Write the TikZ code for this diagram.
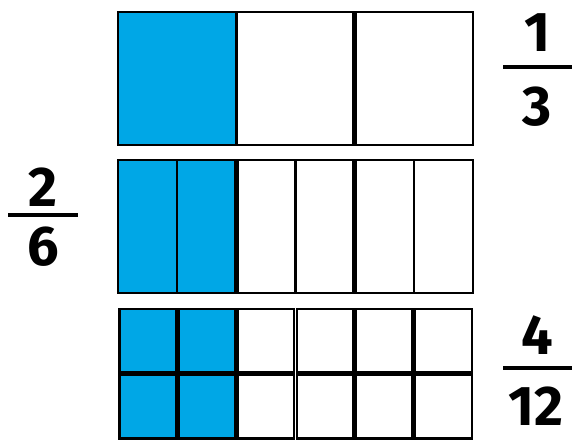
\documentclass[tikz,border=0pt]{standalone}
\usepackage{fontspec}
\usepackage{xcolor}
\usepackage{tikz}
\newfontfamily\digitfont{Fira Sans}
\definecolor{part}{HTML}{00A7E6}
\tikzset{
  cell/.style={draw=black, line width=2.4pt, fill=white},
  shaded/.style={cell, fill=part},
  divider/.style={line width=4.6pt},
  digit/.style={font=\digitfont\bfseries\fontsize{56}{56}\selectfont, inner sep=0pt},
  fracbar/.style={line width=4.8pt}
}

\begin{document}
\begin{tikzpicture}[x=1pt, y=-1pt]
  \useasboundingbox (0,0) rectangle (572,441);
  \pgfmathsetmacro{\Lx}{118}
  \pgfmathsetmacro{\Wd}{355}
  % thirds
  \foreach \i in {0,1,2} {
    \draw[cell] (\Lx+\i*\Wd/3, 12) rectangle ++(\Wd/3, 133);
  }
  \draw[shaded] (\Lx, 12) rectangle ++(\Wd/3, 133);
  \draw[divider] (\Lx+2*\Wd/3, 12) -- (\Lx+2*\Wd/3, 145);
  % sixths
  \foreach \i in {0,...,5} {
    \draw[cell] (\Lx+\i*\Wd/6, 160) rectangle ++(\Wd/6, 133);
  }
  \foreach \i in {0,1} {
    \draw[shaded] (\Lx+\i*\Wd/6, 160) rectangle ++(\Wd/6, 133);
  }
  \foreach \i in {2,4} {
    \draw[divider] (\Lx+\i*\Wd/6, 160) -- (\Lx+\i*\Wd/6, 293);
  }
  % twelfths, each box on its own with a hairline gap
  \foreach \r in {0,1} {
    \foreach \i in {0,...,5} {
      \pgfmathsetmacro{\st}{\i<2 ? "shaded" : "cell"}
      \draw[\st] (\Lx+\i*\Wd/6+1.3, 309+\r*66) rectangle ++(\Wd/6-2.6, 63.5);
    }
  }
  \draw[divider] (\Lx+5*\Wd/6, 308) -- (\Lx+5*\Wd/6, 440);

  % fractions
  \node[digit] (oneNum) at (537, 33) {1};
  \node[digit] (oneDen) at (537, 107) {3};
  \draw[fracbar] (503, 67) -- (572, 67);

  \node[digit] (twoNum) at (43, 187) {2};
  \node[digit] (twoDen) at (43, 247) {6};
  \draw[fracbar] (8, 215) -- (78, 215);

  \node[digit] (fourNum) at (537, 335) {4};
  \node[digit] (fourDen) at (536, 406) {12};
  \draw[fracbar] (503, 368) -- (572, 368);
\end{tikzpicture}
\end{document}
